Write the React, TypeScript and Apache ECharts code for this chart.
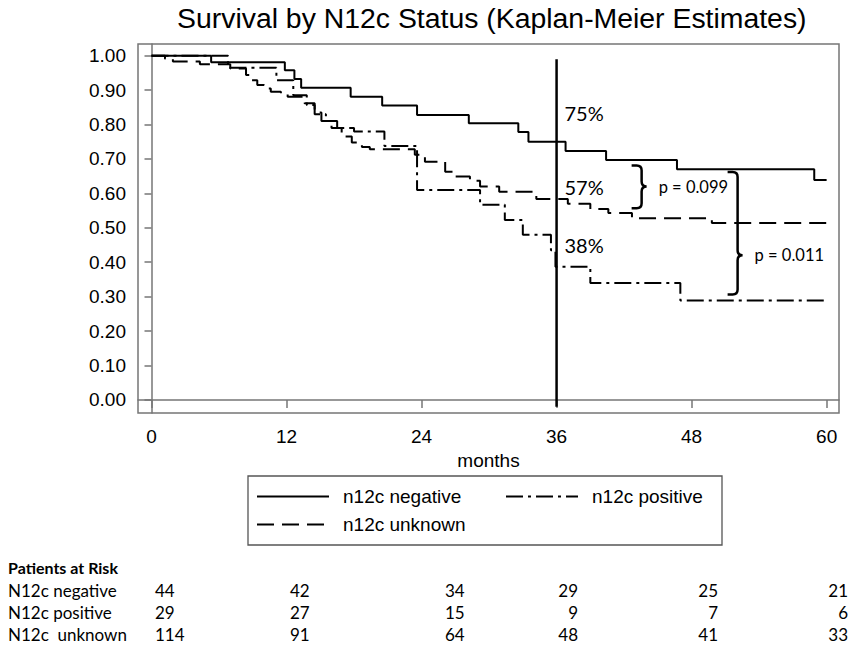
import React, { useEffect, useRef } from 'react';
import * as echarts from 'echarts';

// ---------- data ----------
const seriesNames = ['n12c negative', 'n12c positive', 'n12c unknown'];

const negMonths = [0, 5.3, 11.85, 12.7, 13.3, 17.7, 20.5, 23.6, 28.2, 32.6, 33.5, 36.8, 40.4, 46.7, 58.9, 60];
const negSurv = [1.0, 0.981, 0.958, 0.932, 0.907, 0.881, 0.855, 0.828, 0.804, 0.778, 0.75, 0.723, 0.697, 0.67, 0.639, 0.639];

const posMonths = [0, 6.8, 11.1, 12.6, 13.8, 14.5, 15.5, 16.5, 18.0, 20.7, 23.6, 29.2, 31.4, 33.0, 35.5, 35.9, 39.0, 47.0, 60];
const posSurv = [1.0, 0.965, 0.929, 0.885, 0.857, 0.83, 0.81, 0.79, 0.78, 0.738, 0.61, 0.567, 0.523, 0.48, 0.435, 0.387, 0.34, 0.289, 0.289];

const unkMonths = [0, 1.2, 1.9, 4.3, 7.0, 8.4, 8.8, 9.4, 10.0, 10.6, 11.5, 12.1, 13.6, 14.5, 15.1, 16.0, 16.9, 17.8, 18.7, 19.4, 23.4, 24.3, 26.1, 26.8, 28.3, 29.2, 30.9, 34.2, 37.0, 39.0, 40.6, 42.7, 49.8, 60];
const unkSurv = [1.0, 0.991, 0.983, 0.975, 0.963, 0.944, 0.929, 0.915, 0.905, 0.895, 0.888, 0.881, 0.862, 0.835, 0.81, 0.79, 0.765, 0.748, 0.735, 0.728, 0.712, 0.692, 0.663, 0.649, 0.637, 0.62, 0.605, 0.584, 0.57, 0.555, 0.543, 0.528, 0.514, 0.514];

const xTicks = [0, 12, 24, 36, 48, 60];
const yTicks = [0, 0.1, 0.2, 0.3, 0.4, 0.5, 0.6, 0.7, 0.8, 0.9, 1.0];

const refMonth = 36;
const refSpan = [0.99, -0.02];

const pctMonths = [36.3, 36.3, 36.3];
const pctValues = [0.834, 0.619, 0.451];
const pctTexts = ['75%', '57%', '38%'];

const bracketMonth = [42.67, 51.2];
const bracketTop = [0.681, 0.662];
const bracketBottom = [0.557, 0.306];
const bracketTip = [0.62, 0.42];
const pLabels = ['p = 0.099', 'p = 0.011'];

const riskTitle = 'Patients at Risk';
const riskGroups = ['N12c negative', 'N12c positive', 'N12c  unknown'];
const riskNeg = [44, 42, 34, 29, 25, 21];
const riskPos = [29, 27, 15, 9, 7, 6];
const riskUnk = [114, 91, 64, 48, 41, 33];

// ---------- layout / style ----------
const SANS = '"Liberation Sans", Arial, sans-serif';
const HUM = 'Lato, "Open Sans", sans-serif';
const AX = '#767676';
const INK = '#000';

const colX = [155, 290, 445, 578, 718, 848];
const colAlign = ['left', 'left', 'left', 'right', 'right', 'right'];
const rowY = [590, 612, 634];

const legendLeft = [256, 505, 256];
const legendTop = [487, 487, 515];

function toPairs(xs: number[], ys: number[]) {
  return xs.map((x, i) => [x, ys[i]]);
}

export default function App() {
  const ref = useRef<HTMLDivElement>(null);

  useEffect(() => {
    if (!ref.current) return;
    const chart = echarts.init(ref.current, undefined, { renderer: 'svg' });

    const riskRows = [riskNeg, riskPos, riskUnk];
    const tableGraphics: any[] = [
      {
        type: 'text',
        x: 8,
        y: 567,
        style: { text: riskTitle, font: `bold 16px ${HUM}`, fill: INK, verticalAlign: 'middle' },
      },
    ];
    riskRows.forEach((row, r) => {
      tableGraphics.push({
        type: 'text',
        x: 8,
        y: rowY[r],
        style: { text: riskGroups[r], font: `17px ${HUM}`, fill: INK, verticalAlign: 'middle', align: 'left' },
      });
      row.forEach((v, c) => {
        tableGraphics.push({
          type: 'text',
          x: colX[c],
          y: rowY[r],
          style: { text: String(v), font: `17px ${HUM}`, fill: INK, verticalAlign: 'middle', align: colAlign[c] },
        });
      });
    });

    const lineStyles = [
      { color: '#000', width: 2, type: 'solid' },
      { color: '#000', width: 2, type: [17, 5, 3, 5] },
      { color: '#000', width: 2, type: [17, 8] },
    ];
    const curveData = [toPairs(negMonths, negSurv), toPairs(posMonths, posSurv), toPairs(unkMonths, unkSurv)];

    const option: any = {
      animation: false,
      title: {
        text: 'Survival by N12c Status (Kaplan-Meier Estimates)',
        left: 177,
        top: 4,
        padding: 0,
        textStyle: { fontFamily: SANS, fontSize: 28.4, fontWeight: 'normal', color: INK },
      },
      grid: {
        left: 138,
        right: 17,
        top: 44,
        bottom: 232,
        show: true,
        borderColor: AX,
        borderWidth: 1.5,
        backgroundColor: 'transparent',
      },
      xAxis: {
        type: 'value',
        min: -1.2,
        max: 61.1,
        name: 'months',
        nameLocation: 'middle',
        nameGap: 35,
        nameTextStyle: { fontFamily: SANS, fontSize: 19, color: INK },
        axisLine: { show: true, lineStyle: { color: AX, width: 1.5 } },
        axisTick: { show: true, length: 8, customValues: xTicks, lineStyle: { color: AX, width: 1.5 } },
        axisLabel: { customValues: xTicks, margin: 14, fontSize: 19, color: INK, fontFamily: SANS },
        splitLine: { show: false },
      },
      yAxis: {
        type: 'value',
        min: -0.038,
        max: 1.034,
        axisLine: { show: true, lineStyle: { color: AX, width: 1.5 } },
        axisTick: { show: true, length: 7, customValues: yTicks, lineStyle: { color: AX, width: 1.5 } },
        axisLabel: {
          customValues: yTicks,
          margin: 12,
          fontSize: 19,
          color: INK,
          fontFamily: SANS,
          formatter: (v: number) => v.toFixed(2),
        },
        splitLine: { show: false },
      },
      legend: seriesNames.map((name, i) => ({
        data: [name],
        left: legendLeft[i],
        top: legendTop[i],
        padding: 0,
        itemWidth: 72,
        itemHeight: 20,
        selectedMode: false,
        itemStyle: { color: 'rgba(0,0,0,0)', borderColor: 'rgba(0,0,0,0)', borderWidth: 0, opacity: 0 },
        textStyle: { fontFamily: SANS, fontSize: 19, color: INK, padding: [0, 0, 0, 9] },
      })),
      series: [
        ...seriesNames.map((name, i) => ({
          name,
          type: 'line',
          step: 'end',
          data: curveData[i],
          symbol: 'none',
          lineStyle: lineStyles[i],
          itemStyle: { color: '#000' },
          silent: true,
          z: 3,
        })),
        {
          name: 'ref36',
          type: 'line',
          data: [
            [refMonth, refSpan[0]],
            [refMonth, refSpan[1]],
          ],
          symbol: 'none',
          lineStyle: { color: '#000', width: 2.5 },
          silent: true,
          z: 4,
        },
        {
          name: 'pct',
          type: 'scatter',
          data: toPairs(pctMonths, pctValues),
          symbolSize: 1,
          itemStyle: { color: 'rgba(0,0,0,0)' },
          silent: true,
          label: {
            show: true,
            position: 'right',
            distance: 4,
            formatter: (p: any) => pctTexts[p.dataIndex],
            fontFamily: HUM,
            fontSize: 20,
            color: '#000',
            opacity: 1,
          },
        },
        {
          name: 'brackets',
          type: 'custom',
          silent: true,
          clip: false,
          data: bracketMonth.map((m, i) => [m, bracketTop[i], bracketBottom[i], bracketTip[i]]),
          encode: { x: 0, y: [1, 2, 3] },
          renderItem: (params: any, api: any) => {
            const i = params.dataIndex;
            const [x0, yt] = api.coord([api.value(0), api.value(1)]);
            const yb = api.coord([api.value(0), api.value(2)])[1];
            const ym = api.coord([api.value(0), api.value(3)])[1];
            const xm = x0 + 10;
            const xt = x0 + 15;
            const r = 5;
            const d =
              `M${x0} ${yt} L${xm - r} ${yt} Q${xm} ${yt} ${xm} ${yt + r} L${xm} ${ym - r} ` +
              `Q${xm} ${ym} ${xt} ${ym} Q${xm} ${ym} ${xm} ${ym + r} L${xm} ${yb - r} ` +
              `Q${xm} ${yb} ${xm - r} ${yb} L${x0} ${yb}`;
            return {
              type: 'group',
              children: [
                {
                  type: 'path',
                  shape: { pathData: d },
                  style: { stroke: '#000', lineWidth: 2.5, fill: 'none' },
                },
                {
                  type: 'text',
                  x: xt + 12,
                  y: ym,
                  style: {
                    text: pLabels[i],
                    font: `16.5px ${HUM}`,
                    fill: INK,
                    verticalAlign: 'middle',
                    align: 'left',
                  },
                },
              ],
            };
          },
        },
      ],
      graphic: [
        {
          type: 'rect',
          shape: { x: 248, y: 476, width: 474, height: 69 },
          style: { fill: 'none', stroke: '#555', lineWidth: 1.3 },
          silent: true,
        },
        ...tableGraphics,
      ],
    };

    chart.setOption(option);
    return () => chart.dispose();
  }, []);

  return (
    <div
      ref={ref}
      style={{ position: 'fixed', left: 0, top: 0, width: 856, height: 645, background: '#fff' }}
    />
  );
}
